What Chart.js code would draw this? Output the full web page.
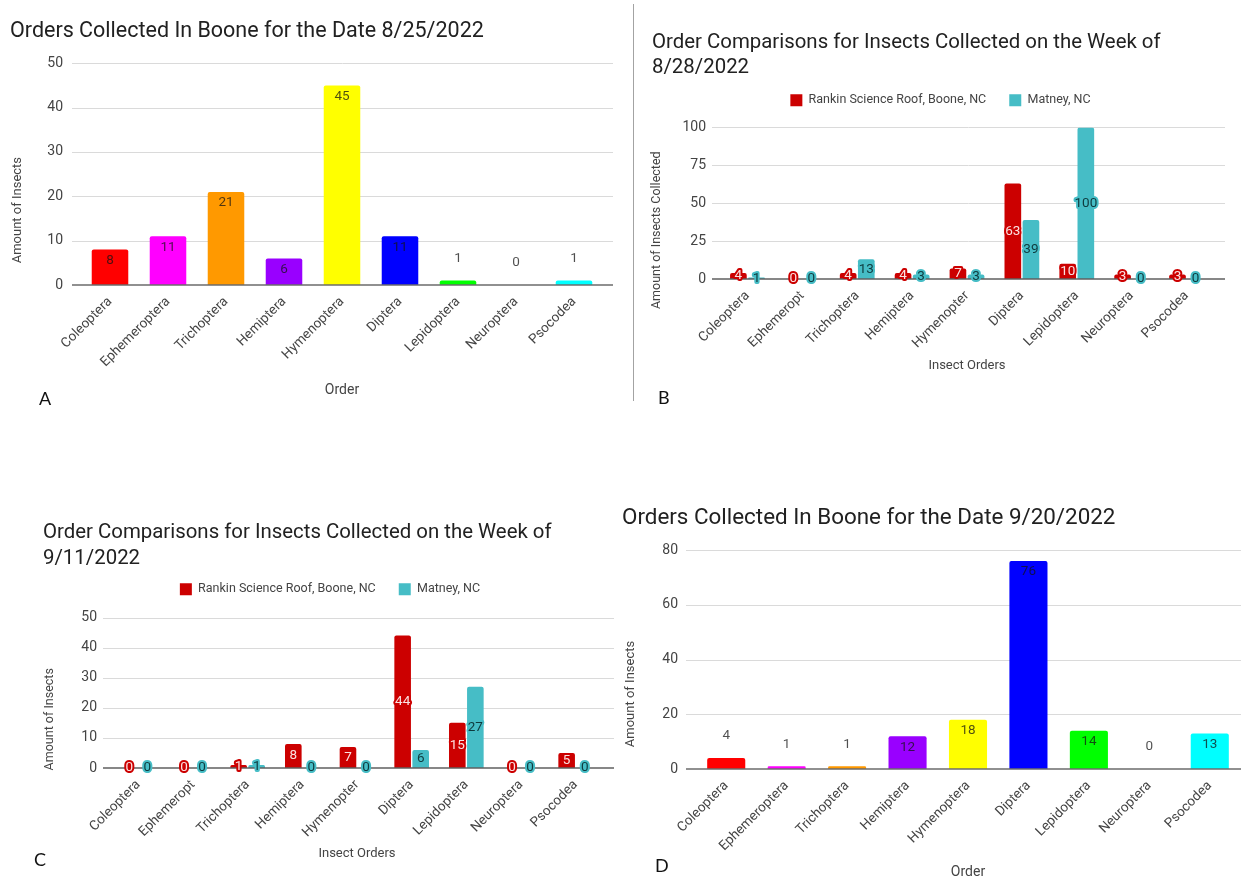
<!DOCTYPE html>
<html>
<head>
<meta charset="utf-8">
<title>Insect orders collected, Boone and Matney NC, 2022</title>
<script src="https://cdn.jsdelivr.net/npm/chart.js@4.4.1/dist/chart.umd.min.js"></script>
<style>
  html, body { margin: 0; padding: 0; background: #fff; overflow: hidden; width: 1241px; height: 881px; }
  canvas.panel { position: absolute; }
  .tag { position: absolute; font-family: Lato, "Liberation Sans", sans-serif; font-size: 18px; line-height: 18px; color: #111; }
  .rule { position: absolute; left: 633px; top: 4px; width: 1px; height: 397px; background: #a3a3a3; }
</style>
</head>
<body>
<div class="rule"></div>
<canvas id="chartA" class="panel" width="620" height="410" style="left:0px;top:0px;width:620px;height:410px"></canvas>
<canvas id="chartB" class="panel" width="608" height="410" style="left:633px;top:0px;width:608px;height:410px"></canvas>
<canvas id="chartC" class="panel" width="620" height="391" style="left:0px;top:490px;width:620px;height:391px"></canvas>
<canvas id="chartD" class="panel" width="621" height="391" style="left:620px;top:490px;width:621px;height:391px"></canvas>
<div class="tag" style="left:39px;top:389px">A</div>
<div class="tag" style="left:658px;top:388px">B</div>
<div class="tag" style="left:34px;top:850px">C</div>
<div class="tag" style="left:655px;top:856px">D</div>
<script>
// ---- data ----
const orders = ['Coleoptera', 'Ephemeroptera', 'Trichoptera', 'Hemiptera', 'Hymenoptera', 'Diptera', 'Lepidoptera', 'Neuroptera', 'Psocodea'];
const ordersShort = ['Coleoptera', 'Ephemeropt', 'Trichoptera', 'Hemiptera', 'Hymenopter', 'Diptera', 'Lepidoptera', 'Neuroptera', 'Psocodea'];
const orderColors = ['#ff0000', '#ff00ff', '#ff9900', '#9900ff', '#ffff00', '#0000ff', '#00ff00', '#b7b7b7', '#00ffff'];

const boone0825 = [8, 11, 21, 6, 45, 11, 1, 0, 1];
const rankin0828 = [4, 0, 4, 4, 7, 63, 10, 3, 3];
const matney0828 = [1, 0, 13, 3, 3, 39, 100, 0, 0];
const rankin0911 = [0, 0, 1, 8, 7, 44, 15, 0, 5];
const matney0911 = [0, 0, 1, 0, 0, 6, 27, 0, 0];
const boone0920 = [4, 1, 1, 12, 18, 76, 14, 0, 13];

const siteNames = ['Rankin Science Roof, Boone, NC', 'Matney, NC'];
const siteColors = ['#cc0000', '#46bdc6'];

// y axis ranges: [max, step]
const yRangeA = [50, 10];
const yRangeB = [100, 25];
const yRangeC = [50, 10];
const yRangeD = [80, 20];

// ---- shared styling ----
const FONT = 'Roboto, "Noto Sans", sans-serif';
const TICK = '#444444';

// horizontal grid lines that run a little past the plot on both sides
const gridLines = {
  id: 'gridLines',
  beforeDatasetsDraw(chart, args, o) {
    const { ctx, chartArea: a } = chart;
    const y = chart.scales.y;
    ctx.save();
    ctx.strokeStyle = o.color;
    ctx.lineWidth = 1;
    y.ticks.forEach(t => {
      if (t.value === 0) return;
      const py = Math.round(y.getPixelForValue(t.value)) + 0.5;
      ctx.beginPath();
      ctx.moveTo(a.left - o.left, py);
      ctx.lineTo(a.right + o.right, py);
      ctx.stroke();
    });
    ctx.restore();
  },
  afterDatasetsDraw(chart, args, o) {
    const { ctx, chartArea: a } = chart;
    const py = chart.scales.y.getPixelForValue(0);
    ctx.save();
    ctx.strokeStyle = o.zeroColor;
    ctx.lineWidth = 1.5;
    ctx.beginPath();
    ctx.moveTo(a.left - o.left, py);
    ctx.lineTo(a.right + o.right, py);
    ctx.stroke();
    ctx.restore();
  }
};

// rotated y-axis caption, sitting a little below the middle of the plot
const sideTitle = {
  id: 'sideTitle',
  afterDraw(chart, args, o) {
    const { ctx, chartArea: a } = chart;
    ctx.save();
    ctx.translate(o.x, (a.top + a.bottom) / 2 + o.dy);
    ctx.rotate(-Math.PI / 2);
    ctx.font = o.size + 'px ' + FONT;
    ctx.fillStyle = TICK;
    ctx.textAlign = 'center';
    ctx.textBaseline = 'middle';
    ctx.fillText(o.text, 0, 0);
    ctx.restore();
  }
};

// value labels: 'end' puts them inside the top of the bar (or above short bars),
// 'center' puts them in the middle of the bar with a halo in the series colour
const valueTags = {
  id: 'valueTags',
  afterDatasetsDraw(chart, args, o) {
    const ctx = chart.ctx;
    ctx.save();
    ctx.font = o.size + 'px ' + FONT;
    ctx.textAlign = 'center';
    ctx.textBaseline = 'middle';
    ctx.lineJoin = 'round';
    chart.data.datasets.forEach((ds, di) => {
      const meta = chart.getDatasetMeta(di);
      meta.data.forEach((bar, i) => {
        const txt = String(ds.data[i]);
        const p = bar.getProps(['x', 'y', 'base'], true);
        if (o.mode === 'end') {
          const h = p.base - p.y;
          const ty = h > 20 ? p.y + 11 : p.y - 22;
          ctx.fillStyle = o.color;
          ctx.fillText(txt, p.x, ty);
        } else {
          const st = o.styles[di];
          const ty = (p.y + p.base) / 2;
          ctx.lineWidth = 4;
          ctx.strokeStyle = st.halo;
          ctx.strokeText(txt, p.x, ty);
          ctx.fillStyle = st.text;
          ctx.fillText(txt, p.x, ty);
        }
      });
    });
    ctx.restore();
  }
};

// extra room under the legend, and a small sideways nudge
const legendFit = {
  id: 'legendFit',
  afterInit(chart, args, o) {
    const lg = chart.legend;
    if (!lg) return;
    const fit = lg.fit;
    lg.fit = function () { fit.call(this); this.height += o.extra; };
  },
  afterLayout(chart, args, o) {
    const lg = chart.legend;
    if (!lg) return;
    lg.left += o.shift;
    lg.right += o.shift;
  }
};

function yAxis(range, width) {
  return {
    min: 0, max: range[0],
    ticks: { stepSize: range[1], padding: width.pad, color: TICK, font: { family: FONT, size: 14 } },
    grid: { display: false, drawTicks: false },
    border: { display: false },
    title: { display: false },
    afterFit(s) { s.width = width.w; }
  };
}

function xAxis(height, text, titleSize, titlePadBottom, tickSize) {
  return {
    ticks: { autoSkip: false, minRotation: 45, maxRotation: 45, padding: 9, color: TICK, font: { family: FONT, size: tickSize } },
    grid: { display: false, drawTicks: false },
    border: { display: false },
    title: { display: true, text: text, color: TICK, font: { family: FONT, size: titleSize, lineHeight: 1.2 }, padding: { top: 0, bottom: titlePadBottom } },
    afterFit(s) { s.height = height; }
  };
}

function titleOpts(text, size, lh, padTop, padBottom) {
  return {
    display: true, text: text, align: 'start', color: '#212121',
    font: { family: FONT, size: size, weight: 'normal', lineHeight: lh },
    padding: { top: padTop, bottom: padBottom }
  };
}

function singleChart(id, values, range, cfg) {
  return new Chart(document.getElementById(id), {
    type: 'bar',
    data: {
      labels: orders,
      datasets: [{
        data: values,
        backgroundColor: orderColors,
        borderRadius: 2,
        borderSkipped: 'bottom',
        barPercentage: 0.63,
        categoryPercentage: 1
      }]
    },
    options: {
      responsive: false, animation: false, events: [],
      layout: { padding: cfg.pad },
      scales: {
        x: xAxis(cfg.xHeight, 'Order', 14, cfg.xTitlePad - 1, 13.5),
        y: yAxis(range, { w: cfg.yWidth, pad: 18 })
      },
      plugins: {
        legend: { display: false },
        tooltip: { enabled: false },
        title: titleOpts(cfg.title, cfg.titleSize, 1.25, cfg.titleTop, cfg.titleBottom),
        sideTitle: { text: 'Amount of Insects', x: cfg.yTitleX, dy: cfg.yTitleDy, size: 13 },
        gridLines: { left: cfg.extL, right: 10, color: '#dadada', zeroColor: '#6b6b6b' },
        valueTags: { mode: 'end', size: 13.5, color: 'rgba(20,20,20,0.75)' }
      }
    },
    plugins: [gridLines, valueTags, sideTitle]
  });
}

function pairChart(id, a, b, range, cfg) {
  const bar = { borderRadius: 2, borderSkipped: 'bottom', barPercentage: 0.92, categoryPercentage: 0.66 };
  return new Chart(document.getElementById(id), {
    type: 'bar',
    data: {
      labels: ordersShort,
      datasets: [
        Object.assign({ label: siteNames[0], data: a, backgroundColor: siteColors[0] }, bar),
        Object.assign({ label: siteNames[1], data: b, backgroundColor: siteColors[1] }, bar)
      ]
    },
    options: {
      responsive: false, animation: false, events: [],
      layout: { padding: cfg.pad },
      scales: {
        x: xAxis(cfg.xHeight, 'Insect Orders', 13, cfg.xTitlePad, 13.5),
        y: yAxis(range, { w: cfg.yWidth, pad: 14 })
      },
      plugins: {
        legend: {
          display: true, position: 'top', align: 'center',
          labels: { boxWidth: 12, boxHeight: 12, padding: 23, color: TICK, font: { family: FONT, size: 12.5 } }
        },
        legendFit: { extra: cfg.legendExtra, shift: cfg.legendShift },
        tooltip: { enabled: false },
        title: titleOpts(cfg.title, 20.4, cfg.titleLH, cfg.titleTop, cfg.titleBottom),
        sideTitle: { text: cfg.yTitle, x: cfg.yTitleX, dy: cfg.yTitleDy, size: 12.5 },
        gridLines: { left: 8, right: 11, color: '#dadada', zeroColor: '#5f5f5f' },
        valueTags: {
          mode: 'center', size: 13.5,
          styles: [{ text: '#fbe1e1', halo: siteColors[0] }, { text: '#0e3a3d', halo: siteColors[1] }]
        }
      }
    },
    plugins: [gridLines, valueTags, legendFit, sideTitle]
  });
}

singleChart('chartA', boone0825, yRangeA, {
  title: 'Orders Collected In Boone for the Date 8/25/2022',
  titleSize: 21.5, titleTop: 18.6, titleBottom: 17.8,
  pad: { left: 10, right: 17, top: 0, bottom: 0 },
  yWidth: 71, yTitleX: 18, yTitleDy: 36, extL: 9,
  xHeight: 125, xTitlePad: 12.5
});

pairChart('chartB', rankin0828, matney0828, yRangeB, {
  title: ['Order Comparisons for Insects Collected on the Week of', '8/28/2022'],
  titleLH: 1.225, titleTop: 30.5, titleBottom: -9.5,
  pad: { left: 19, right: 27, top: 0, bottom: 0 },
  yWidth: 68, yTitle: 'Amount of Insects Collected', yTitleX: 24, yTitleDy: 27,
  xHeight: 131, xTitlePad: 36.5,
  legendExtra: 11, legendShift: 7.5
});

pairChart('chartC', rankin0911, matney0911, yRangeC, {
  title: ['Order Comparisons for Insects Collected on the Week of', '9/11/2022'],
  titleLH: 1.275, titleTop: 30, titleBottom: -12,
  pad: { left: 43, right: 17, top: 0, bottom: 0 },
  yWidth: 68, yTitle: 'Amount of Insects', yTitleX: 50, yTitleDy: 26.5,
  xHeight: 113, xTitlePad: 19.5,
  legendExtra: 12, legendShift: 7
});

singleChart('chartD', boone0920, yRangeD, {
  title: 'Orders Collected In Boone for the Date 9/20/2022',
  titleSize: 22.4, titleTop: 14, titleBottom: 18,
  pad: { left: 2, right: 1, top: 0, bottom: 0 },
  yWidth: 74, yTitleX: 11, yTitleDy: 34.5, extL: 10,
  xHeight: 112, xTitlePad: 1.5
});
</script>
</body>
</html>
